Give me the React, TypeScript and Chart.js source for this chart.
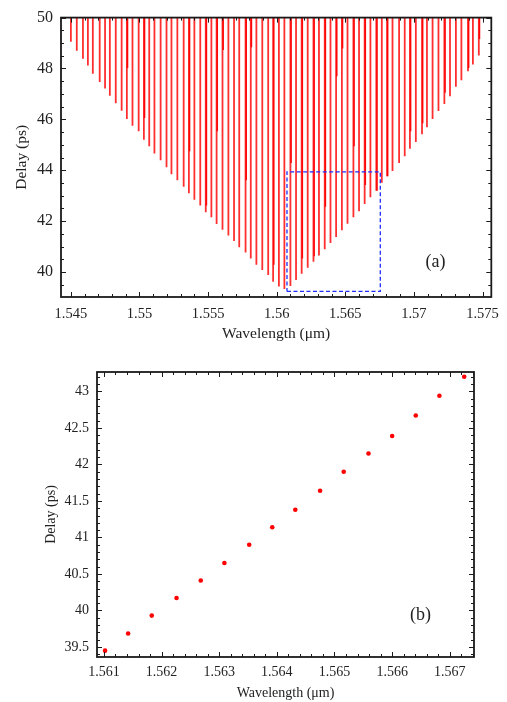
import React, { useEffect, useRef } from "react";
import { Chart, registerables } from "chart.js";

Chart.register(...registerables);

// ---------- Panel (a): delay spikes ----------
const spikeWavelengths = [
  1.545, 1.54543, 1.54588, 1.54624, 1.5466, 1.5471, 1.54749, 1.54784, 1.54827, 1.5487,
  1.54908, 1.54949, 1.54994, 1.55032, 1.55071, 1.55109, 1.55154, 1.55197,
  1.55233, 1.55276, 1.55322, 1.5536, 1.554, 1.55443, 1.55483, 1.55524, 1.55562, 1.55605,
  1.55648, 1.55689, 1.55727, 1.55773, 1.55811, 1.55852, 1.55895, 1.55938, 1.55974,
  1.56016, 1.56056,
  1.561, 1.56141, 1.56182, 1.56226, 1.56268, 1.56308, 1.5635, 1.56392, 1.56433, 1.56475,
  1.56516, 1.56559, 1.566, 1.56641, 1.56683, 1.56726,
  1.56766,
  1.56804, 1.56844, 1.56892, 1.56933, 1.56971, 1.57014, 1.57059, 1.57095, 1.57136,
  1.57179, 1.57222, 1.57263, 1.57306, 1.57346, 1.57394, 1.5743, 1.57473,
];
const spikeMinima = [
  49.05, 48.7, 48.38, 48.12, 47.79, 47.47, 47.21, 46.93, 46.63, 46.34,
  46.02, 45.75, 45.53, 45.2, 44.94, 44.66, 44.39, 44.12,
  43.84, 43.61, 43.35, 43.1, 42.84, 42.62, 42.35, 42.15, 41.89, 41.66,
  41.44, 41.22, 40.98, 40.77, 40.53, 40.29, 40.08, 39.88, 39.62,
  39.43, 39.33,
  39.45, 39.69, 39.93, 40.17, 40.41, 40.65, 40.9, 41.14, 41.38, 41.64,
  41.9, 42.15, 42.39, 42.67, 42.94, 43.2,
  43.51,
  43.77, 43.97, 44.29, 44.55, 44.85, 45.11, 45.42, 45.69, 46.02,
  46.33, 46.6, 46.91, 47.28, 47.54, 47.89, 48.16, 48.51,
];
// second, partly sampled dips that make some spikes look thicker
const overlapWavelengths = [
  1.54913, 1.55037, 1.55365, 1.55488, 1.55567, 1.5561, 1.55778, 1.55816, 1.55979,
  1.56105, 1.56187, 1.56273, 1.56355, 1.56438, 1.5648, 1.56564, 1.56646, 1.56731,
  1.56809, 1.56976, 1.57064, 1.57227, 1.57399, 1.57478,
];
const overlapMinima = [
  48.02, 46.05, 44.75, 42.62, 45.53, 48.73, 43.61, 48.83, 40.29,
  44.29, 40.53, 40.62, 42.57, 47.7, 48.79, 44.94, 43.42, 43.2,
  43.77, 45.53, 45.85, 47.05, 48.02, 49.16,
];
const aXRange = [1.54428, 1.57564];
const aYRange = [39.02, 50];
const aXTicks = [1.545, 1.55, 1.555, 1.56, 1.565, 1.57, 1.575];
const aXTickLabels = ["1.545", "1.55", "1.555", "1.56", "1.565", "1.57", "1.575"];
const aYTicks = [40, 42, 44, 46, 48, 50];
const aYTickLabels = ["40", "42", "44", "46", "48", "50"];
const zoomBoxX = [1.56075, 1.56755];
const zoomBoxY = [39.24, 43.94];
const aLabel = { text: "(a)", x: 1.57157, y: 40.39 };

// ---------- Panel (b): zoomed minima ----------
const bWavelengths = [
  1.56102, 1.56142, 1.56183, 1.56226, 1.56268, 1.56309, 1.56352, 1.56392,
  1.56432, 1.56475, 1.56516, 1.56559, 1.566, 1.56641, 1.56682, 1.56725,
];
const bDelays = [
  39.45, 39.685, 39.93, 40.17, 40.41, 40.65, 40.9, 41.14,
  41.38, 41.64, 41.9, 42.15, 42.39, 42.67, 42.94, 43.2,
];
const bXRange = [1.56088, 1.56742];
const bYRange = [39.363, 43.266];
const bXTicks = [1.561, 1.562, 1.563, 1.564, 1.565, 1.566, 1.567];
const bXTickLabels = ["1.561", "1.562", "1.563", "1.564", "1.565", "1.566", "1.567"];
const bYTicks = [39.5, 40, 40.5, 41, 41.5, 42, 42.5, 43];
const bYTickLabels = ["39.5", "40", "40.5", "41", "41.5", "42", "42.5", "43"];
const bLabel = { text: "(b)", x: 1.56649, y: 39.94 };

const SERIF = "'Liberation Serif', 'DejaVu Serif', serif";

function spikeSegments(xs: number[], mins: number[], top: number) {
  const out: { x: number; y: number | null }[] = [];
  xs.forEach((x, i) => {
    out.push({ x, y: top }, { x, y: mins[i] }, { x, y: null });
  });
  return out;
}

const frameTicksPlugin = {
  id: "frameTicks",
  afterDatasetsDraw(chart: any, _args: any, opts: any) {
    const { ctx, chartArea: a, scales } = chart;
    const xs = scales.x;
    const ys = scales.y;
    ctx.save();
    ctx.strokeStyle = "#1a1a1a";
    ctx.lineWidth = 1;
    ctx.beginPath();
    const isMajor = (v: number, majors: number[], step: number) =>
      majors.some((m) => Math.abs(m - v) < step / 10);
    const xTick = (v: number, len: number) => {
      const p = Math.round(xs.getPixelForValue(v)) + 0.5;
      ctx.moveTo(p, a.bottom);
      ctx.lineTo(p, a.bottom - len);
      ctx.moveTo(p, a.top);
      ctx.lineTo(p, a.top + len);
    };
    const yTick = (v: number, len: number) => {
      const p = Math.round(ys.getPixelForValue(v)) + 0.5;
      ctx.moveTo(a.left, p);
      ctx.lineTo(a.left + len, p);
      ctx.moveTo(a.right, p);
      ctx.lineTo(a.right - len, p);
    };
    const kx0 = Math.ceil(xs.min / opts.xStep - 1e-6);
    const kx1 = Math.floor(xs.max / opts.xStep + 1e-6);
    for (let k = kx0; k <= kx1; k++) {
      const v = k * opts.xStep;
      xTick(v, isMajor(v, opts.xMajor, opts.xStep) ? 5 : 3);
    }
    const ky0 = Math.ceil(ys.min / opts.yStep - 1e-6);
    const ky1 = Math.floor(ys.max / opts.yStep + 1e-6);
    for (let k = ky0; k <= ky1; k++) {
      const v = k * opts.yStep;
      yTick(v, isMajor(v, opts.yMajor, opts.yStep) ? 5 : 3);
    }
    ctx.stroke();
    ctx.lineWidth = 1.8;
    ctx.strokeRect(a.left, a.top, a.right - a.left, a.bottom - a.top);
    ctx.fillStyle = "#222";
    ctx.font = `${opts.labelSize}px ${SERIF}`;
    ctx.textAlign = "center";
    ctx.textBaseline = "middle";
    ctx.fillText(opts.label.text, xs.getPixelForValue(opts.label.x), ys.getPixelForValue(opts.label.y));
    ctx.restore();
  },
};

function makeScales(p: any) {
  return {
    x: {
      type: "linear",
      min: p.xRange[0],
      max: p.xRange[1],
      grid: { display: false, drawTicks: false },
      border: { display: false },
      afterBuildTicks: (s: any) => {
        s.ticks = p.xTicks.map((v: number) => ({ value: v }));
      },
      afterFit: (s: any) => {
        s.height = p.xHeight;
      },
      ticks: {
        autoSkip: false,
        maxRotation: 0,
        padding: p.xTickPad,
        color: "#222",
        font: { family: SERIF, size: p.xTickSize },
        callback: (_v: any, i: number) => p.xLabels[i],
      },
      title: {
        display: true,
        text: "Wavelength (\u03bcm)",
        color: "#222",
        font: { family: SERIF, size: p.titleSize },
        padding: { top: 0, bottom: p.xTitlePad },
      },
    },
    y: {
      type: "linear",
      min: p.yRange[0],
      max: p.yRange[1],
      grid: { display: false, drawTicks: false },
      border: { display: false },
      afterBuildTicks: (s: any) => {
        s.ticks = p.yTicks.map((v: number) => ({ value: v }));
      },
      afterFit: (s: any) => {
        s.width = p.yWidth;
      },
      ticks: {
        autoSkip: false,
        padding: 8,
        color: "#222",
        font: { family: SERIF, size: p.yTickSize },
        callback: (_v: any, i: number) => p.yLabels[i],
      },
      title: {
        display: true,
        text: "Delay (ps)",
        color: "#222",
        font: { family: SERIF, size: p.titleSize },
        padding: { top: p.yTitlePad, bottom: 0 },
      },
    },
  };
}

export default function App() {
  const topRef = useRef<HTMLCanvasElement>(null);
  const botRef = useRef<HTMLCanvasElement>(null);

  useEffect(() => {
    const common = {
      animation: false,
      responsive: false,
      devicePixelRatio: 1,
      events: [],
      plugins: { legend: { display: false }, tooltip: { enabled: false } },
    };

    const top = new Chart(topRef.current as HTMLCanvasElement, {
      type: "scatter",
      data: {
        datasets: [
          {
            data: [
              { x: zoomBoxX[0], y: zoomBoxY[0] },
              { x: zoomBoxX[1], y: zoomBoxY[0] },
              { x: zoomBoxX[1], y: zoomBoxY[1] },
              { x: zoomBoxX[0], y: zoomBoxY[1] },
              { x: zoomBoxX[0], y: zoomBoxY[0] },
            ],
            showLine: true,
            borderColor: "#1f2cff",
            borderWidth: 1.3,
            borderDash: [4, 2.5],
            pointRadius: 0,
            order: 0,
          },
          {
            data: spikeSegments(overlapWavelengths, overlapMinima, aYRange[1]),
            showLine: true,
            spanGaps: false,
            borderColor: "rgba(255,0,0,0.95)",
            borderWidth: 1.5,
            pointRadius: 0,
            order: 1,
          },
          {
            data: spikeSegments(spikeWavelengths, spikeMinima, aYRange[1]),
            showLine: true,
            spanGaps: false,
            borderColor: "rgba(255,10,10,0.85)",
            borderWidth: 1.8,
            pointRadius: 0,
            order: 2,
          },
        ],
      },
      options: {
        ...common,
        layout: { autoPadding: false, padding: { top: 15, right: 8, left: 0, bottom: 0 } },
        scales: makeScales({
          xRange: aXRange,
          yRange: aYRange,
          xTicks: aXTicks,
          xLabels: aXTickLabels,
          yTicks: aYTicks,
          yLabels: aYTickLabels,
          xHeight: 53,
          yWidth: 61,
          xTickPad: 8,
          xTickSize: 14.5,
          yTickSize: 16,
          titleSize: 15.5,
          xTitlePad: 7,
          yTitlePad: 13,
        }),
        plugins: {
          ...common.plugins,
          frameTicks: {
            xStep: 0.001,
            xMajor: aXTicks,
            yStep: 0.5,
            yMajor: aYTicks,
            label: aLabel,
            labelSize: 18,
          },
        },
      } as any,
      plugins: [frameTicksPlugin],
    });

    const bottom = new Chart(botRef.current as HTMLCanvasElement, {
      type: "scatter",
      data: {
        datasets: [
          {
            data: bWavelengths.map((x, i) => ({ x, y: bDelays[i] })),
            backgroundColor: "#ff0000",
            borderWidth: 0,
            pointRadius: 2.3,
          },
        ],
      },
      options: {
        ...common,
        layout: { autoPadding: false, padding: { top: 22, right: 33, left: 0, bottom: 0 } },
        scales: makeScales({
          xRange: bXRange,
          yRange: bYRange,
          xTicks: bXTicks,
          xLabels: bXTickLabels,
          yTicks: bYTicks,
          yLabels: bYTickLabels,
          xHeight: 45,
          yWidth: 97,
          xTickPad: 7,
          xTickSize: 14,
          yTickSize: 14,
          titleSize: 14,
          xTitlePad: 0,
          yTitlePad: 43,
        }),
        plugins: {
          ...common.plugins,
          frameTicks: {
            xStep: 0.0002,
            xMajor: bXTicks,
            yStep: 0.1,
            yMajor: bYTicks,
            label: bLabel,
            labelSize: 18,
          },
        },
      } as any,
      plugins: [frameTicksPlugin],
    });

    return () => {
      top.destroy();
      bottom.destroy();
    };
  }, []);

  return (
    <div
      style={{
        position: "absolute",
        left: 0,
        top: 0,
        width: 507,
        height: 702,
        background: "#fff",
      }}
    >
      <canvas
        ref={topRef}
        width={507}
        height={350}
        style={{ position: "absolute", left: 0, top: 0, width: 507, height: 350 }}
      />
      <canvas
        ref={botRef}
        width={507}
        height={352}
        style={{ position: "absolute", left: 0, top: 350, width: 507, height: 352 }}
      />
    </div>
  );
}
